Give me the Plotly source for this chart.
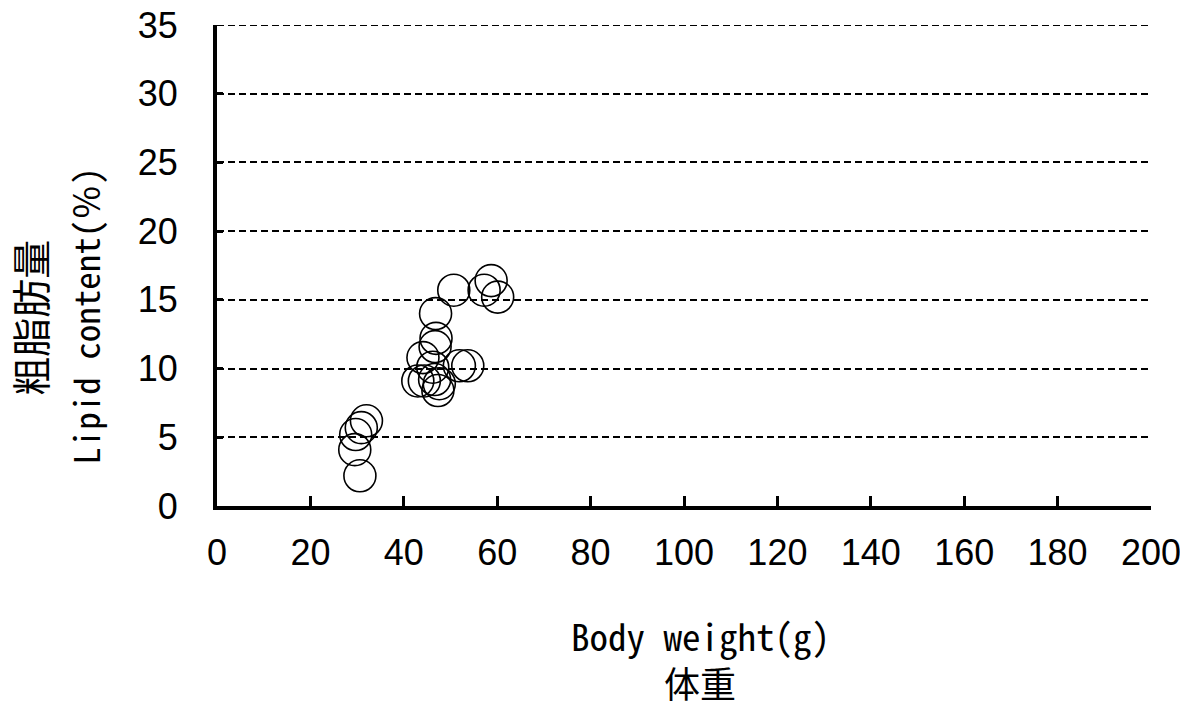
import plotly.graph_objects as go

body_weight = [50.7, 58.7, 57.2, 60.1, 46.8, 46.9, 46.7, 44.1, 46.2, 51.9, 53.7,
               43.0, 44.4, 46.6, 47.3, 47.6, 32.0, 30.9, 29.7, 29.5, 30.6]
lipid = [15.7, 16.4, 15.7, 15.2, 14.0, 12.2, 11.6, 10.8, 10.1, 10.2, 10.2,
         9.1, 9.1, 9.2, 8.4, 8.9, 6.2, 5.7, 5.2, 4.1, 2.2]

x_ticks = [0, 20, 40, 60, 80, 100, 120, 140, 160, 180, 200]
y_ticks = [0, 5, 10, 15, 20, 25, 30, 35]

# page body has an 8px default margin; work in page pixels and shift
OFF = 8
W, H = 1180, 694
plot_l, plot_r, plot_t, plot_b = 217.4, 1151.5, 25, 505.7
L = plot_l - OFF
R = W - (plot_r - OFF)
T = plot_t - OFF
B = H - (plot_b - OFF)
pw = plot_r - plot_l
ph = plot_b - plot_t

def px(xp):
    return (xp - plot_l) / pw

def py(yp):
    return (plot_b - yp) / ph

fig = go.Figure()
fig.add_trace(go.Scatter(
    x=body_weight, y=lipid, mode="markers",
    marker=dict(symbol="circle-open", size=32, color="black",
                line=dict(width=1.6, color="black")),
    cliponaxis=False, showlegend=False,
))

# top gridline (plotly clips gridlines lying on the plot edge)
fig.add_shape(type="line", xref="paper", x0=0, x1=1, yref="y",
              y0=max(y_ticks), y1=max(y_ticks),
              line=dict(color="black", width=2, dash="7px,4px"), layer="below")

cjk = "Noto Sans CJK JP"
mono = "Noto Sans Mono CJK JP, Noto Sans CJK JP"
latin = "Liberation Sans, Arial"
fig.update_layout(
    width=W, height=H,
    margin=dict(l=L, r=R, t=T, b=B, autoexpand=False),
    plot_bgcolor="white", paper_bgcolor="white",
    font=dict(family=latin, color="black", size=36),
    xaxis=dict(range=[0, 200], tickvals=x_ticks, showgrid=False, zeroline=False,
               showline=True, linewidth=4, linecolor="black", automargin=False,
               ticks="inside", ticklen=10, tickwidth=3, tickcolor="black",
               ticklabelstandoff=12, ticklabeloverflow="allow", tickfont=dict(size=36)),
    yaxis=dict(range=[0, 35], tickvals=y_ticks, showgrid=True, gridcolor="black",
               gridwidth=1.5, griddash="7px,4px", zeroline=False, automargin=False,
               showline=True, linewidth=4, linecolor="black",
               ticks="inside", ticklen=6, tickwidth=2.5, tickcolor="black",
               ticklabelstandoff=28, ticklabeloverflow="allow", tickfont=dict(size=36)),
)

ann = [
    dict(text="Body weight(g)", x=px(701), y=py(635), size=37, angle=0, fam=mono),
    dict(text="体重", x=px(700), y=py(682), size=36, angle=0, fam=cjk),
    dict(text="粗脂肪量", x=px(30), y=py(318), size=39, angle=-90, fam=cjk),
    dict(text="Lipid content(％)", x=px(85), y=py(316), size=35, angle=-90, fam=mono),
]
for a in ann:
    fig.add_annotation(text=a["text"], x=a["x"], y=a["y"], xref="paper", yref="paper",
                       xanchor="center", yanchor="middle", showarrow=False,
                       textangle=a["angle"], font=dict(family=a["fam"], size=a["size"], color="black"))

fig.write_html("out.html")
